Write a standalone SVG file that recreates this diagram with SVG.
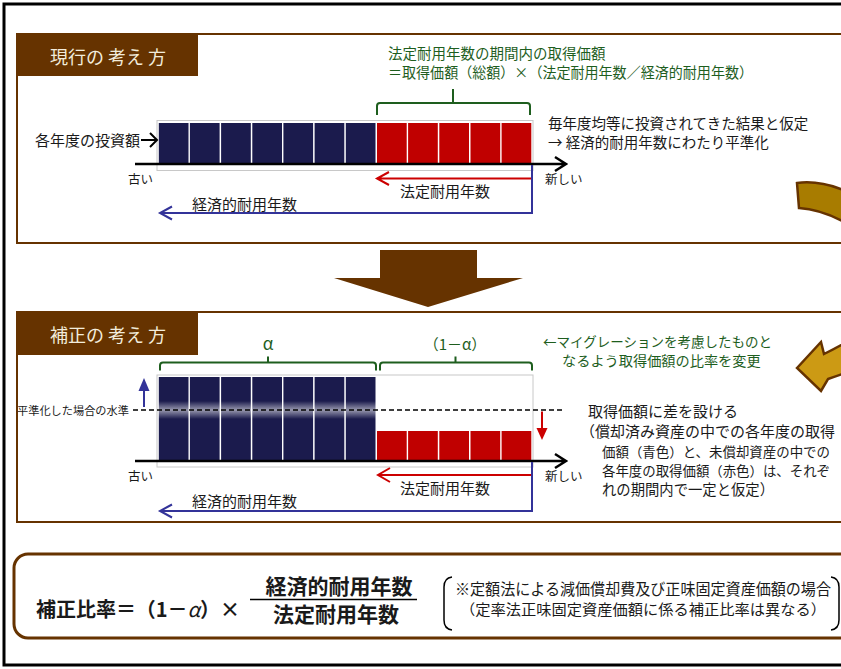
<svg xmlns="http://www.w3.org/2000/svg" width="841" height="669" viewBox="0 0 841 669">
<defs>
<style>
text{font-family:"Noto Sans CJK JP","Noto Sans",sans-serif;fill:#1a1a1a}
.g{fill:#1e5e1e}
.ttl{fill:#f2ecdc;font-size:18px}
.nv{fill:#1b1b4d}
.rd{fill:#c00000}
.frame{fill:#fff;stroke:#c8c8c8;stroke-width:1}
.panel{fill:#fff;stroke:#663300;stroke-width:2}
.axis{fill:none;stroke:#000;stroke-width:2.5}
.brk{fill:none;stroke:#1e5e1e;stroke-width:2}
.rl{fill:none;stroke:#cc0000;stroke-width:2}
.bl{fill:none;stroke:#333399;stroke-width:2}
</style>
<linearGradient id="glow" x1="0" y1="0" x2="0" y2="1">
<stop offset="0" stop-color="#fff" stop-opacity="0"/>
<stop offset="0.5" stop-color="#fff" stop-opacity="0.55"/>
<stop offset="1" stop-color="#fff" stop-opacity="0"/>
</linearGradient>
</defs>
<rect x="0" y="0" width="841" height="669" fill="#fff"/>
<rect x="4" y="4" width="850" height="661" fill="none" stroke="#000" stroke-width="3"/>

<g id="panel1">
<rect class="panel" x="17" y="34" width="840" height="209"/>
<rect x="17" y="34" width="181" height="42" fill="#663300"/>
<text class="ttl" x="50" y="64">現行の 考え 方</text>
</g>

<g id="panel2">
<rect class="panel" x="17" y="312" width="840" height="210"/>
<rect x="17" y="312" width="181" height="43" fill="#663300"/>
<text class="ttl" x="50" y="342">補正の 考え 方</text>
</g>

<g id="down-arrow">
<polygon points="380,250 477,250 477,278 523,278 428,307 334,278 380,278" fill="#663300"/>
</g>

<g id="curved-arrow">
<path d="M797,183 C812,181 830,184 848,192 L848,224 C832,215 815,209 799,208 Z" fill="#a87c00" stroke="#663300" stroke-width="2.5"/>
<path d="M797,368 L821,342 L824,354 C832,350 840,346 848,341 L848,372 C840,375 834,377 828,379 L821,391 Z" fill="#cc9a14" stroke="#663300" stroke-width="2.5"/>
</g>

<g id="bars1">
<rect class="frame" x="157" y="120.5" width="376" height="50"/>
<rect class="nv" x="158.8" y="123" width="29.7" height="41"/>
<rect class="nv" x="189.9" y="123" width="29.7" height="41"/>
<rect class="nv" x="221.1" y="123" width="29.7" height="41"/>
<rect class="nv" x="252.3" y="123" width="29.7" height="41"/>
<rect class="nv" x="283.4" y="123" width="29.7" height="41"/>
<rect class="nv" x="314.6" y="123" width="29.7" height="41"/>
<rect class="nv" x="345.8" y="123" width="29.7" height="41"/>
<rect class="rd" x="377.0" y="123" width="29.7" height="41"/>
<rect class="rd" x="408.1" y="123" width="29.7" height="41"/>
<rect class="rd" x="439.3" y="123" width="29.7" height="41"/>
<rect class="rd" x="470.5" y="123" width="29.7" height="41"/>
<rect class="rd" x="501.6" y="123" width="29.7" height="41"/>
</g>

<g id="bars2">
<rect class="frame" x="157" y="375" width="376" height="92"/>
<rect class="nv" x="158.8" y="377" width="29.7" height="84"/>
<rect class="nv" x="189.9" y="377" width="29.7" height="84"/>
<rect class="nv" x="221.1" y="377" width="29.7" height="84"/>
<rect class="nv" x="252.3" y="377" width="29.7" height="84"/>
<rect class="nv" x="283.4" y="377" width="29.7" height="84"/>
<rect class="nv" x="314.6" y="377" width="29.7" height="84"/>
<rect class="nv" x="345.8" y="377" width="29.7" height="84"/>
<rect x="158" y="401" width="218" height="18" fill="url(#glow)"/>
<rect class="rd" x="377.0" y="431" width="29.7" height="30"/>
<rect class="rd" x="408.1" y="431" width="29.7" height="30"/>
<rect class="rd" x="439.3" y="431" width="29.7" height="30"/>
<rect class="rd" x="470.5" y="431" width="29.7" height="30"/>
<rect class="rd" x="501.6" y="431" width="29.7" height="30"/>
</g>

<g id="connectors">
<path class="axis" d="M135,164 H565 M555,157 L566,164 L555,171"/>
<path class="axis" d="M135,461 H565 M555,454 L566,461 L555,468"/>
<path d="M141,140 H157 M150,133 L157,140 L150,147" fill="none" stroke="#000" stroke-width="2"/>
<path class="rl" d="M532,178.5 H377 M389,172 L377,178.5 L389,185"/>
<path class="rl" d="M532,475 H378 M390,468 L378,475 L390,482"/>
<path class="bl" d="M532,165 V213 H160 M172,206.5 L160,213 L172,219.5"/>
<path class="bl" d="M532,462 V511 H160 M172,504.5 L160,511 L172,517.5"/>
<path class="brk" d="M377,115 V106 Q377,103 380,103 H453 V89 M453,103 H527 Q530,103 530,106 V115"/>
<path class="brk" d="M160,370.5 V365.5 Q160,362.5 163,362.5 H268 V356.5 M268,362.5 H373 Q376,362.5 376,365.5 V370.5"/>
<path class="brk" d="M380,370.5 V365.5 Q380,362.5 383,362.5 H455.5 V356.5 M455.5,362.5 H529 Q532,362.5 532,365.5 V370.5"/>
<path d="M133,410 H565" fill="none" stroke="#000" stroke-width="1.5" stroke-dasharray="5,3"/>
<path d="M144,407 V389" stroke="#333399" stroke-width="2" fill="none"/>
<polygon points="144,378 138.5,391 149.5,391" fill="#333399"/>
<path d="M542,411.5 V430" stroke="#cc0000" stroke-width="2" fill="none"/>
<polygon points="542,440 536.5,428 547.5,428" fill="#cc0000"/>
</g>

<g id="labels1">
<text class="g" x="388" y="59" font-size="14.5">法定耐用年数の期間内の取得価額</text>
<text class="g" x="388" y="78" font-size="14.5" textLength="365" lengthAdjust="spacingAndGlyphs">＝取得価額（総額）×（法定耐用年数／経済的耐用年数）</text>
<text x="35" y="146" font-size="15">各年度の投資額</text>
<text x="128" y="184" font-size="12.5">古い</text>
<text x="545" y="184" font-size="12.5">新しい</text>
<text x="400" y="197" font-size="15">法定耐用年数</text>
<text x="192" y="210" font-size="15">経済的耐用年数</text>
<text x="548" y="129" font-size="14.5">毎年度均等に投資されてきた結果と仮定</text>
<text x="548" y="148" font-size="14.5">→ 経済的耐用年数にわたり平準化</text>
</g>

<g id="labels2">
<text class="g" x="268" y="350" font-size="17" text-anchor="middle">α</text>
<text class="g" x="455" y="350" font-size="15" text-anchor="middle">（1－α）</text>
<text class="g" x="543" y="347" font-size="13.5">←マイグレーションを考慮したものと</text>
<text class="g" x="562" y="366" font-size="14.2">なるよう取得価額の比率を変更</text>
<text x="17" y="415" font-size="11.2">平準化した場合の水準</text>
<text x="588" y="417" font-size="15">取得価額に差を設ける</text>
<text x="580" y="437" font-size="15">（償却済み資産の中での各年度の取得</text>
<text x="602" y="457" font-size="13.4" textLength="228" lengthAdjust="spacingAndGlyphs">価額（青色）と、未償却資産の中での</text>
<text x="602" y="476" font-size="13.4" textLength="228" lengthAdjust="spacingAndGlyphs">各年度の取得価額（赤色）は、それぞ</text>
<text x="602" y="495" font-size="15" textLength="172" lengthAdjust="spacingAndGlyphs">れの期間内で一定と仮定）</text>
<text x="128" y="481" font-size="12.5">古い</text>
<text x="545" y="481" font-size="12.5">新しい</text>
<text x="400" y="494" font-size="15">法定耐用年数</text>
<text x="192" y="507" font-size="15">経済的耐用年数</text>
</g>

<g id="formula">
<rect x="14" y="554" width="850" height="84" rx="14" fill="#fff" stroke="#663300" stroke-width="3"/>
<text x="36" y="617" font-size="20" font-weight="bold" textLength="204" lengthAdjust="spacing">補正比率＝（1－<tspan font-style="italic" font-weight="normal">α</tspan>）×</text>
<text x="339" y="594" font-size="21" font-weight="bold" text-anchor="middle">経済的耐用年数</text>
<path d="M250,599.5 H417" stroke="#000" stroke-width="1.5"/>
<text x="336" y="622" font-size="21" font-weight="bold" text-anchor="middle">法定耐用年数</text>
<path d="M452,577 Q444,578 444,587 V620 Q444,629 452,630" fill="none" stroke="#000" stroke-width="1.5"/>
<path d="M831,577 Q839,578 839,587 V620 Q839,629 831,630" fill="none" stroke="#000" stroke-width="1.5"/>
<text x="455" y="595" font-size="15.5" textLength="376" lengthAdjust="spacingAndGlyphs">※定額法による減価償却費及び正味固定資産価額の場合</text>
<text x="460" y="615" font-size="14.6" textLength="366" lengthAdjust="spacingAndGlyphs">（定率法正味固定資産価額に係る補正比率は異なる）</text>
</g>
</svg>
